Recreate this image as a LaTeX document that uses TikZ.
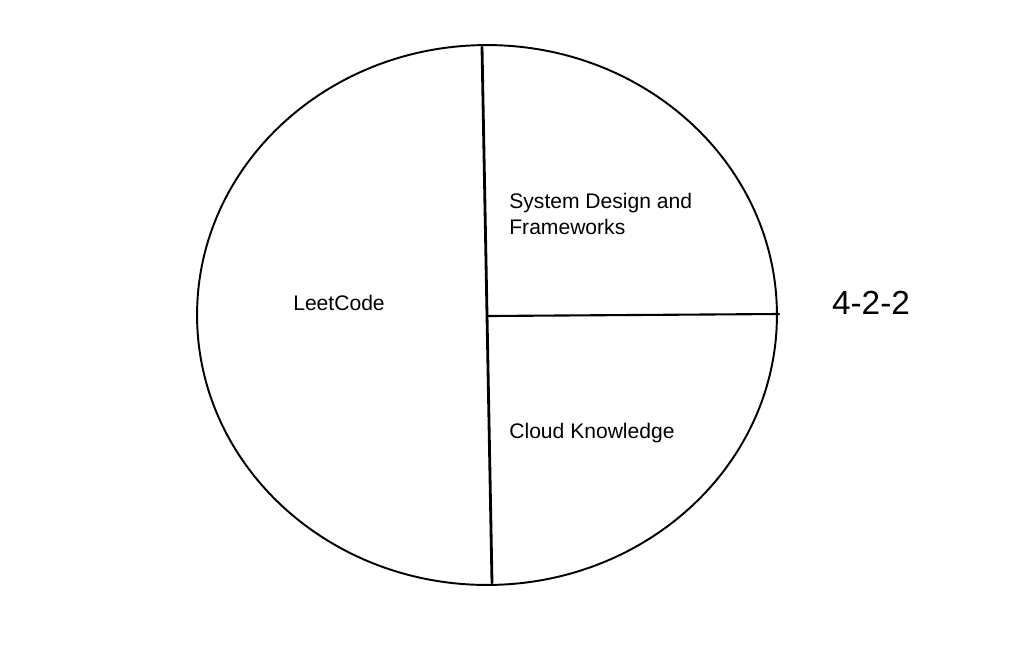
\documentclass[tikz,border=0pt]{standalone}
\usepackage{fontspec}
\setmainfont{Liberation Sans}
\usetikzlibrary{positioning, calc, shapes.geometric}
\tikzset{rim/.style={draw, ellipse, line width=1.1pt, inner sep=0pt, minimum width=11.6cm, minimum height=10.8cm}}
\tikzset{cut/.style={draw, line width=1.6pt, line cap=round}}
\tikzset{slice/.style={inner sep=0pt, align=left, font=\fontsize{12}{15}\selectfont}}
\tikzset{ratio/.style={inner sep=0pt, font=\fontsize{19}{22}\selectfont}}

\begin{document}
\begin{tikzpicture}[x=0.02cm, y=-0.02cm]
	\useasboundingbox (0,0) rectangle (1015,650);
	\node[rim] (pie) at (487,315) {};
	%
	\coordinate (top) at (482,47);
	\coordinate (bot) at (492,583);
	\coordinate (hub) at (488,316);
	\coordinate (edge) at (779,314);
	\draw[cut] (top) -- (bot);
	\draw[cut, line width=1.2pt] (hub) -- (edge);
	%
	\node[slice] (leet) at (339,303) {LeetCode};
	\node[slice, anchor=west] (sys) at (509,214) {System Design and\\Frameworks};
	\node[slice, anchor=west] (cloud) at (509,433) {Cloud Knowledge};
	\node[ratio] (split) at (871,303) {4-2-2};
\end{tikzpicture}
\end{document}
